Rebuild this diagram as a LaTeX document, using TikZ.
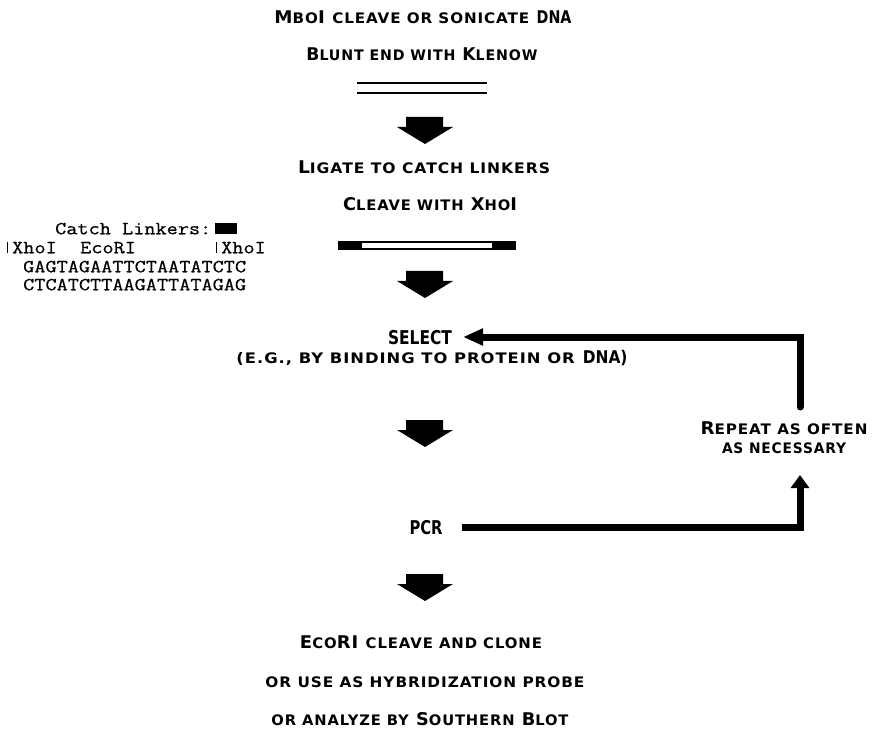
\documentclass[tikz,border=0pt]{standalone}
\usepackage{fontspec}
\usepackage{graphicx}
\usetikzlibrary{arrows.meta}
\newfontfamily\labfont{DejaVu Sans}[LetterSpace=6]
\newfontfamily\condfont{DejaVu Sans}
\setmonofont{Latin Modern Mono}[FakeStretch=1.17,FakeBold=0.6]
\newcommand\sk[1]{{\fontsize{14.5}{16}\selectfont #1}}
\newcommand\cnd[1]{\resizebox{0.78\width}{\height}{\condfont\bfseries #1}}
\newcommand\fitto[2]{\resizebox{#1pt}{\height}{#2}}
\begin{document}
\begin{tikzpicture}[x=1pt,y=-1pt,
  lab/.style={font=\labfont\bfseries\fontsize{17.5}{19}\selectfont, inner sep=0pt, anchor=base},
  cond/.style={font=\condfont\bfseries\fontsize{19}{21}\selectfont, inner sep=0pt, anchor=base},
  mono/.style={font=\ttfamily\fontsize{18.5}{20}\selectfont, inner sep=0pt, anchor=base west},
  loopline/.style={line width=7pt, line join=miter},
  blockarrow/.pic={\fill (-19,0)--(18,0)--(18,10)--(28,10)--(0,27)--(-28,10)--(-19,10)--cycle;}
]
\useasboundingbox (0,0) rectangle (876,730);

% top
\node[lab] (t1) at (423,24) {\fitto{297}{M\sk{BO}I \sk{CLEAVE OR SONICATE} \cnd{DNA}}};
\node[lab] (t2) at (422,61) {\fitto{231}{B\sk{LUNT END WITH} K\sk{LENOW}}};
\draw[line width=1.6pt] (357,83) -- (487,83);
\draw[line width=1.6pt] (357,93) -- (487,93);
\pic at (425,117) {blockarrow};

\node[lab] (t3) at (424,174) {\fitto{252}{L\sk{IGATE TO CATCH LINKERS}}};
\node[lab] (t4) at (430,211) {\fitto{174}{C\sk{LEAVE WITH} X\sk{HO}I}};
\fill (338,241) rectangle (516,250);
\fill[white] (362,243.2) rectangle (492,247.8);
\pic at (425,271) {blockarrow};

% left legend
\node[mono] (cl) at (55,234.3) {Catch Linkers:};
\fill (215,223.5) rectangle (237,234);
\node[mono] (x1) at (12,253.3) {XhoI};
\node[mono] (eco) at (80,253.3) {EcoRI};
\node[mono] (x2) at (221,253.3) {XhoI};
\draw[line width=1.1pt] (7.5,242) -- (7.5,253);
\draw[line width=1.1pt] (216.5,242) -- (216.5,253);
\node[mono] (s1) at (23,272.3) {GAGTAGAATTCTAATATCTC};
\node[mono] (s2) at (23,290.3) {CTCATCTTAAGATTATAGAG};

% select
\node[cond] (sel) at (420,344) {\fitto{64}{SELECT}};
\node[lab] (paren) at (432,363) {\fitto{391}{\sk{(E.G., BY BINDING TO PROTEIN OR} \cnd{DNA)}}};
\pic at (425,420) {blockarrow};

\node[lab] (rep1) at (784,434) {\fitto{167}{R\sk{EPEAT AS OFTEN}}};
\node[lab] (rep2) at (784,453) {\fitto{124}{\sk{AS NECESSARY}}};

\node[cond] (pcr) at (426,534) {\fitto{33}{PCR}};

% loop connectors
\coordinate (selin) at (463,337);
\coordinate (topcorner) at (800,337);
\coordinate (topend) at (800,407);
\coordinate (pcrout) at (462,527);
\coordinate (botcorner) at (800,527);
\coordinate (reptip) at (800,475);
\draw[loopline, line cap=round, -{Triangle[length=20pt,width=16pt]}] (topend) -- (topcorner) -- (selin);
\draw[loopline, -{Triangle[length=13pt,width=18pt]}] (pcrout) -- (botcorner) -- (reptip);

\pic at (425,574) {blockarrow};

% bottom
\node[lab] (e1) at (421,648) {\fitto{242}{E\sk{CO}RI \sk{CLEAVE AND CLONE}}};
\node[lab] (e2) at (425,687) {\fitto{319}{\sk{OR USE AS HYBRIDIZATION PROBE}}};
\node[lab] (e3) at (420,725) {\fitto{297}{\sk{OR ANALYZE BY} S\sk{OUTHERN} B\sk{LOT}}};
\end{tikzpicture}
\end{document}
